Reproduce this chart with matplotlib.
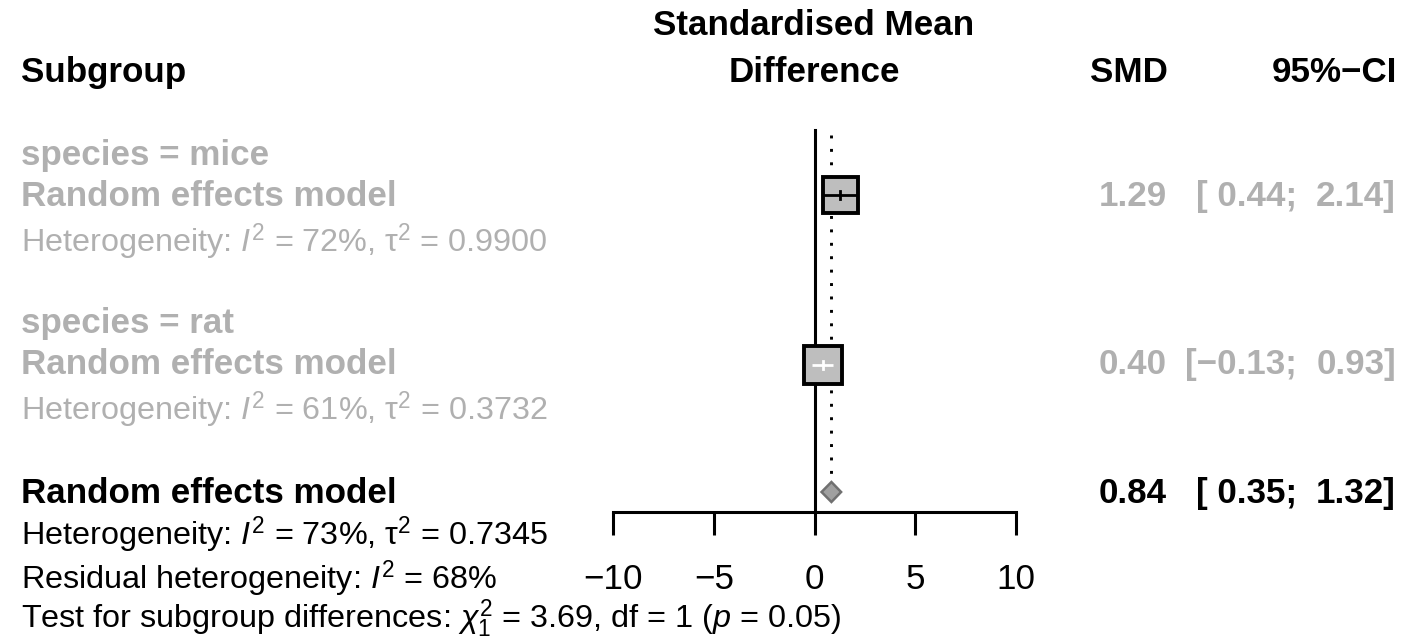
import matplotlib
matplotlib.use("Agg")
import matplotlib.pyplot as plt
from matplotlib.patches import Rectangle, Polygon

plt.rcParams["font.family"] = ["Liberation Sans", "DejaVu Sans"]
plt.rcParams["mathtext.fontset"] = "custom"
plt.rcParams["mathtext.rm"] = "Liberation Sans"
plt.rcParams["mathtext.it"] = "Liberation Sans:italic"
plt.rcParams["mathtext.bf"] = "Liberation Sans:bold"

# ---- subgroup estimates (random effects) ----
groups = ["mice", "rat"]
smd = [1.29, 0.40]
ci_lo = [0.44, -0.13]
ci_hi = [2.14, 0.93]
weight = [46.0, 54.0]
i2 = [72, 61]
tau2 = [0.9900, 0.3732]

# ---- overall estimate ----
overall_smd = 0.84
overall_lo = 0.35
overall_hi = 1.32
overall_i2 = 73
overall_tau2 = 0.7345
resid_i2 = 68
chi2_between = 3.69
df_between = 1
p_between = 0.05

xticks = [-10, -5, 0, 5, 10]

GREY = "#b0b0b0"
MAIN = 25.2
SMALL = 23.3

W, H = 1405, 640
fig = plt.figure(figsize=(W / 100, H / 100), dpi=100)

# text layer in pixel coordinates
tx = fig.add_axes([0, 0, 1, 1])
tx.set_xlim(0, W)
tx.set_ylim(H, 0)
tx.axis("off")

# forest panel: x in SMD units, y in pixel rows
x_left, x_right, y_axis = 613, 1016, 512
ax = fig.add_axes([x_left / W, (H - y_axis) / H, (x_right - x_left) / W, y_axis / H])
ax.set_xlim(xticks[0], xticks[-1])
ax.set_ylim(y_axis, 0)
ax.patch.set_visible(False)
for s in ["top", "right", "left"]:
    ax.spines[s].set_visible(False)
ax.spines["bottom"].set_linewidth(2.2)
ax.spines["bottom"].set_capstyle("projecting")
ax.set_yticks([])
ax.set_xticks(xticks)
ax.set_xticklabels([f"{t:d}".replace("-", "\u2212") for t in xticks], fontsize=MAIN)
ax.tick_params(axis="x", direction="out", length=16.5, width=2.2, pad=20)
px_per_unit = (x_right - x_left) / (xticks[-1] - xticks[0])

# headers
hdr = dict(fontsize=MAIN, fontweight="bold", va="baseline")
tx.text(21, 82, "Subgroup", ha="left", **hdr)
tx.text(814, 35, "Standardised Mean", ha="center", **hdr)
tx.text(814, 82, "Difference", ha="center", **hdr)
tx.text(1168, 82, "SMD", ha="right", **hdr)
tx.text(1397, 82, "95%\u2212CI", ha="right", **hdr)


def fmt(v):
    return f"{v:.2f}".replace("-", "\u2212")


def ci_text(y, est, lo, hi, color):
    lo_s = ("[ " if lo >= 0 else "[") + fmt(lo) + ";"
    kw = dict(fontsize=MAIN, color=color, fontweight="bold", ha="right", va="baseline")
    tx.text(1167, y, fmt(est), **kw)
    tx.text(1297, y, lo_s, **kw)
    tx.text(1396, y, fmt(hi) + "]", **kw)


# subgroup blocks
label_base = [165, 333]
model_base = [206, 374]
het_base = [252, 420]
box_center = [195, 365]
box_ref = 38.0
for g, est, lo, hi, w, i2v, t2, yl, ym, yh, yc in zip(
        groups, smd, ci_lo, ci_hi, weight, i2, tau2,
        label_base, model_base, het_base, box_center):
    tx.text(21, yl, f"species = {g}", fontsize=MAIN, fontweight="bold", color=GREY,
            ha="left", va="baseline")
    tx.text(21, ym, "Random effects model", fontsize=MAIN, fontweight="bold", color=GREY,
            ha="left", va="baseline")
    tx.text(21, yh, f"Heterogeneity: $I^2$ = {i2v}%, \u03c4$^2$ = {t2:.4f}",
            fontsize=SMALL, color=GREY, ha="left", va="baseline")
    ci_text(ym, est, lo, hi, GREY)

    side = box_ref * (w / max(weight)) ** 0.5
    half_x = side / 2 / px_per_unit
    ax.add_patch(Rectangle((est - half_x, yc - side / 2), 2 * half_x, side,
                           facecolor="#bebebe", edgecolor="black", linewidth=2.8, zorder=4))
    lc = "white" if lo < 0 else "black"
    ax.plot([lo, hi], [yc, yc], color=lc, linewidth=2.0, zorder=5, solid_capstyle="butt")
    ax.plot([est, est], [yc - 4, yc + 4], color=lc, linewidth=2.0, zorder=5)

# reference lines
ax.plot([0, 0], [130, y_axis], color="black", linewidth=2.2, zorder=2)
ax.plot([overall_smd, overall_smd], [135, 476], color="black", linewidth=2.1,
        linestyle=(0, (1.0, 3.6)), zorder=3)

# overall diamond
yd = 492
ax.add_patch(Polygon([[overall_lo, yd], [overall_smd, yd - 10], [overall_hi, yd],
                      [overall_smd, yd + 10]], closed=True,
                     facecolor="#a0a0a0", edgecolor="#707070", linewidth=1.8, zorder=4))

tx.text(21, 503, "Random effects model", fontsize=MAIN, fontweight="bold", ha="left", va="baseline")
ci_text(503, overall_smd, overall_lo, overall_hi, "black")
tx.text(21, 545, f"Heterogeneity: $I^2$ = {overall_i2}%, \u03c4$^2$ = {overall_tau2:.4f}",
        fontsize=SMALL, ha="left", va="baseline")
tx.text(21, 589, f"Residual heterogeneity: $I^2$ = {resid_i2}%",
        fontsize=SMALL, ha="left", va="baseline")
tx.text(21, 628, f"Test for subgroup differences: $\\chi^2_{df_between}$ = {chi2_between:.2f}, "
        f"df = {df_between} ($p$ = {p_between:.2f})",
        fontsize=SMALL, ha="left", va="baseline")

fig.savefig("out.png", dpi=100)
